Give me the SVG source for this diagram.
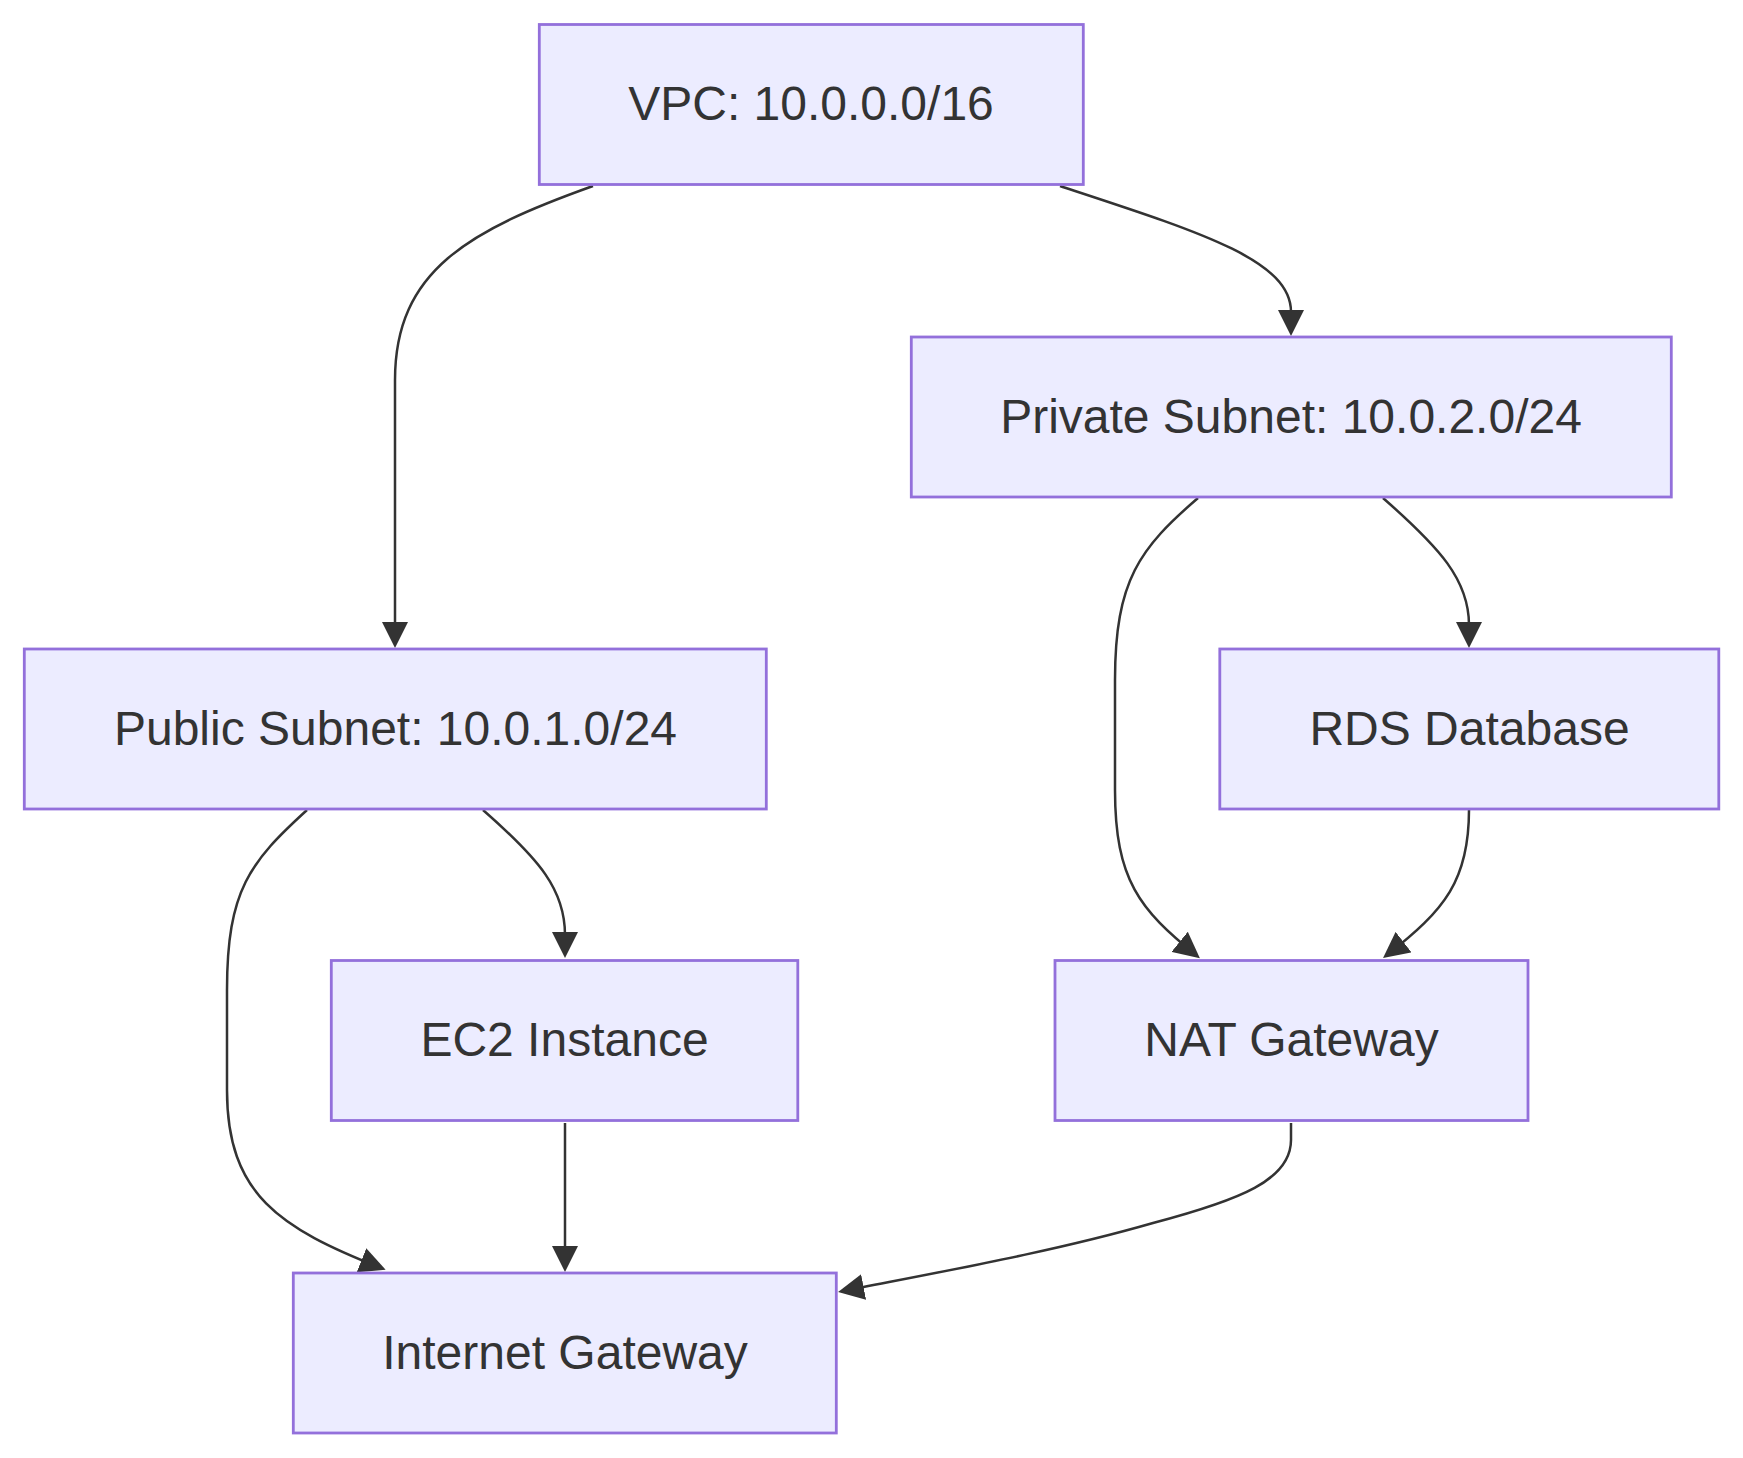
<svg xmlns="http://www.w3.org/2000/svg" width="1743" height="1458" viewBox="0 0 1743 1458">
<style>
.node rect{fill:#ECECFF;stroke:#9370DB;stroke-width:2.8}
.node text{font-family:"Liberation Sans",Arial,sans-serif;font-size:48px;fill:#333333;text-anchor:middle}
.edge{fill:none;stroke:#333333;stroke-width:2.5}
</style>
<defs>
<marker id="arrow" markerUnits="userSpaceOnUse" markerWidth="26" markerHeight="26" viewBox="0 0 26 26" refX="21" refY="13" orient="auto">
<path d="M0,0 L26,13 L0,26 z" fill="#333333"/>
</marker>
</defs>
<rect width="1743" height="1458" fill="#ffffff"/>
<g id="connectors">
<path class="edge" marker-end="url(#arrow)" d="M593,186 C470,230 395,270 395,380 L395,643"/>
<path class="edge" marker-end="url(#arrow)" d="M1060,186 C1200,232 1291,260 1291,312 L1291,331"/>
<path class="edge" marker-end="url(#arrow)" d="M1198,498 C1140,548 1115,580 1115,680 L1115,790 C1115,880 1140,910 1196,955"/>
<path class="edge" marker-end="url(#arrow)" d="M1383,498 C1440,548 1469,580 1469,625 L1469,643"/>
<path class="edge" marker-end="url(#arrow)" d="M1469,810 C1469,880 1445,910 1387,955"/>
<path class="edge" marker-end="url(#arrow)" d="M307,810 C250,862 227,890 227,990 L227,1090 C227,1195 280,1228 381,1268"/>
<path class="edge" marker-end="url(#arrow)" d="M483,810 C540,860 565,890 565,935 L565,953"/>
<path class="edge" marker-end="url(#arrow)" d="M565,1123 L565,1267"/>
<path class="edge" marker-end="url(#arrow)" d="M1291,1123 L1291,1140 C1291,1180 1240,1200 1153,1223 C1056,1251 950,1270 843,1291"/>
</g>
<g id="vpc" class="node"><rect x="539.3" y="24.5" width="544" height="160"/><text x="811" y="120">VPC: 10.0.0.0/16</text></g>
<g id="private" class="node"><rect x="911.3" y="337" width="760" height="160"/><text x="1291" y="432.5">Private Subnet: 10.0.2.0/24</text></g>
<g id="public" class="node"><rect x="24.3" y="649" width="742" height="160"/><text x="395.5" y="744.5">Public Subnet: 10.0.1.0/24</text></g>
<g id="rds" class="node"><rect x="1219.8" y="649" width="499" height="160"/><text x="1469.5" y="744.5">RDS Database</text></g>
<g id="ec2" class="node"><rect x="331.3" y="960.5" width="466.5" height="160"/><text x="564.5" y="1056">EC2 Instance</text></g>
<g id="nat" class="node"><rect x="1055" y="960.5" width="473" height="160"/><text x="1291.5" y="1056">NAT Gateway</text></g>
<g id="igw" class="node"><rect x="293.3" y="1273" width="543" height="160"/><text x="565" y="1368.5">Internet Gateway</text></g>
</svg>
